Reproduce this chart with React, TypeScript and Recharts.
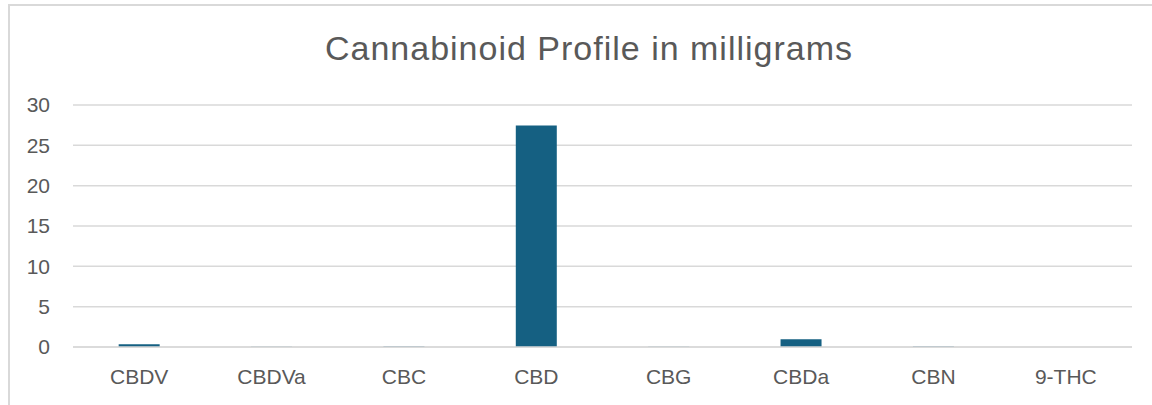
import React from 'react';
import { BarChart, Bar, XAxis, YAxis, CartesianGrid } from 'recharts';

const cannabinoids = ['CBDV', 'CBDVa', 'CBC', 'CBD', 'CBG', 'CBDa', 'CBN', '9-THC'];
const milligrams = [0.35, 0.04, 0.07, 27.45, 0.04, 0.95, 0.05, 0];
const yTicks = [0, 5, 10, 15, 20, 25, 30];

const data = cannabinoids.map((name, i) => ({ name, mg: milligrams[i] }));

const font = '"Liberation Sans", Arial, sans-serif';

export default function App() {
  return (
    <div
      style={{
        position: 'absolute',
        left: 0,
        top: 0,
        width: 1152,
        height: 405,
        overflow: 'hidden',
        background: '#ffffff',
        fontFamily: font,
      }}
    >
      {/* chart frame, runs off the right and bottom edges */}
      <div
        style={{
          position: 'absolute',
          left: 8,
          top: 4,
          width: 1300,
          height: 600,
          border: '2px solid #d9d9d9',
          boxSizing: 'border-box',
        }}
      />
      <div
        style={{
          position: 'absolute',
          left: 0,
          top: 28,
          width: 1178,
          textAlign: 'center',
          fontSize: 34,
          letterSpacing: 1,
          color: '#595959',
          lineHeight: '40px',
        }}
      >
        Cannabinoid Profile in milligrams
      </div>
      <div style={{ position: 'absolute', left: 0, top: 0 }}>
        <BarChart
          width={1152}
          height={405}
          data={data}
          margin={{ top: 105, right: 20, bottom: 18, left: 0 }}
          barCategoryGap="34.5%"
        >
          <CartesianGrid vertical={false} stroke="#d9d9d9" strokeWidth={1.5} />
          <XAxis
            dataKey="name"
            height={40}
            axisLine={{ stroke: '#d9d9d9', strokeWidth: 1.5 }}
            tickLine={false}
            tickMargin={16}
            tick={{ fontSize: 21, fill: '#595959', fontFamily: font }}
            interval={0}
          />
          <YAxis
            width={73}
            domain={[0, 30]}
            ticks={yTicks}
            axisLine={false}
            tickLine={false}
            tickMargin={17}
            tick={{ fontSize: 21, fill: '#595959', fontFamily: font }}
          />
          <Bar dataKey="mg" fill="#156082" isAnimationActive={false} />
        </BarChart>
      </div>
    </div>
  );
}
